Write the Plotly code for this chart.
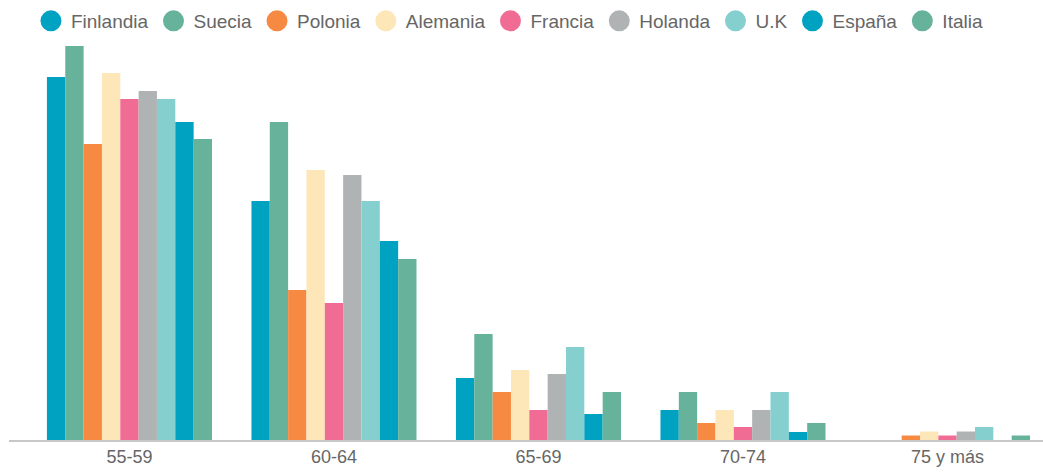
import plotly.graph_objects as go

categories = ["55-59", "60-64", "65-69", "70-74", "75 y más"]
series_names = ["Finlandia", "Suecia", "Polonia", "Alemania", "Francia", "Holanda", "U.K", "España", "Italia"]
colors = ["#00a2c2", "#66b29b", "#f68a42", "#fde6b8", "#f06c94", "#b0b3b4", "#86cfcf", "#00a2c2", "#66b29b"]

finlandia = [363, 239, 62, 30, 0]
suecia = [394, 318, 106, 48, 0]
polonia = [296, 150, 48, 17, 4.5]
alemania = [367, 270, 70, 30, 8.5]
francia = [341, 137, 30, 13, 4.5]
holanda = [349, 265, 66, 30, 8.5]
uk = [341, 239, 93, 48, 13]
espana = [318, 199, 26, 8, 0]
italia = [301, 181, 48, 17, 4.5]

values = [finlandia, suecia, polonia, alemania, francia, holanda, uk, espana, italia]

fig = go.Figure()
for name, vals, col in zip(series_names, values, colors):
    fig.add_trace(go.Bar(x=categories, y=vals, name=name, marker=dict(color=col, line=dict(width=0)),
                         showlegend=False))
for name, col in zip(series_names, colors):
    fig.add_trace(go.Scatter(x=[None], y=[None], mode="markers", name=name,
                             marker=dict(symbol="circle", size=16, color=col, line=dict(color=col, width=5)),
                             showlegend=True))

fig.update_layout(
    width=1043, height=472,
    margin=dict(l=9, r=0, t=40, b=32),
    paper_bgcolor="white", plot_bgcolor="white",
    barmode="group", bargap=0.193, bargroupgap=0,
    font=dict(family="Liberation Sans, Arial, sans-serif", size=18, color="#666666"),
    showlegend=True,
    legend=dict(orientation="h", x=0.484, xanchor="center", y=1.095, yanchor="top",
                font=dict(size=19, color="#666666"), itemclick=False, traceorder="normal"),
    xaxis=dict(range=[-0.589, 4.467], showgrid=False, zeroline=False, showline=True,
               linecolor="#c8c8c8", linewidth=1.5, ticks="", tickfont=dict(size=18, color="#666666")),
    yaxis=dict(range=[0, 400], visible=False, showgrid=False, zeroline=False),
)

fig.write_html("out.html")
